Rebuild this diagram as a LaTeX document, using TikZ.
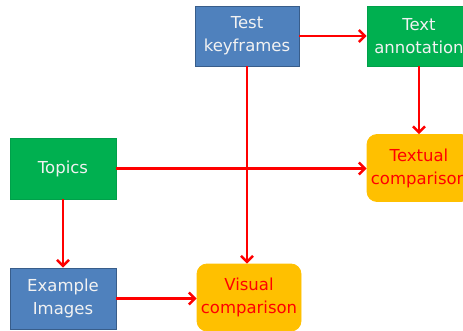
\documentclass[tikz,border=0pt]{standalone}
\usepackage{fontspec}
\setmainfont{DejaVu Sans}
\usetikzlibrary{arrows.meta}
\definecolor{bfill}{HTML}{4F81BD}
\definecolor{bdraw}{HTML}{385D8A}
\definecolor{gfill}{HTML}{00B050}
\definecolor{gdraw}{HTML}{00A04A}
\definecolor{ofill}{HTML}{FFC000}
\definecolor{txtlight}{HTML}{F2F2F2}
\tikzset{
  box/.style={minimum width=104pt, minimum height=60pt, align=center, inner sep=0pt,
    font=\fontsize{16.5}{23}\selectfont, line width=0.8pt},
  bluebox/.style={box, fill=bfill, draw=bdraw, text=txtlight},
  greenbox/.style={box, fill=gfill, draw=gdraw, text=txtlight},
  orangebox/.style={box, fill=ofill, draw=ofill, text=red, rounded corners=10pt, minimum height=67pt},
  conn/.style={draw=red, line width=2.7pt, -{Straight Barb[length=6pt,width=12pt,line width=2.5pt]}}
}
\begin{document}
\begin{tikzpicture}[x=1pt,y=-1pt]
\useasboundingbox (0,0) rectangle (463,331);
\node[bluebox] (tk) at (247,36) {Test\\keyframes};
\node[greenbox] (ta) at (419,36) {Text\\annotation};
\node[greenbox, minimum width=106pt, minimum height=61pt] (tp) at (63,168.5) {Topics};
\node[orangebox] (tc) at (419,168) {Textual\\comparison};
\node[bluebox, minimum width=106pt, minimum height=61pt] (ex) at (63,298.5) {Example\\Images};
\node[orangebox] (vc) at (249,297.5) {Visual\\comparison};
\draw[conn] (tk.east) -- (ta.west);
\draw[conn] (ta.south) -- (tc.north);
\draw[conn] (tp.east) -- (tp.east -| tc.west);
\draw[conn] (tk.south) -- (tk.south |- vc.north);
\draw[conn] (tp.south) -- (ex.north);
\draw[conn] (ex.east) -- (ex.east -| vc.west);
\end{tikzpicture}
\end{document}
